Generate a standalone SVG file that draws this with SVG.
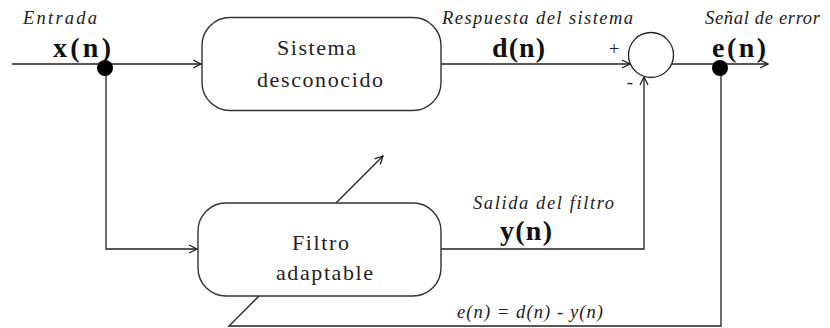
<svg xmlns="http://www.w3.org/2000/svg" width="830" height="328" viewBox="0 0 830 328">
<style>
.ln{fill:none;stroke:#222;stroke-width:1.3}
.box{fill:#fff;stroke:#333;stroke-width:1.4}
.dot{fill:#000}
</style>
<defs>
<marker id="arr" markerWidth="10" markerHeight="10" refX="9" refY="5" orient="auto" markerUnits="userSpaceOnUse">
<path d="M1,1 L9,5 L1,9" fill="none" stroke="#222" stroke-width="1.3"/>
</marker>
</defs>
<g id="connectors">
<line class="ln" x1="12" y1="64" x2="201" y2="64" marker-end="url(#arr)"/>
<polyline class="ln" points="106,64 106,249 197,249" marker-end="url(#arr)"/>
<line class="ln" x1="441" y1="64" x2="630" y2="64" marker-end="url(#arr)"/>
<polyline class="ln" points="441,249 644,249 644,77" marker-end="url(#arr)"/>
<line class="ln" x1="672" y1="64" x2="768" y2="64" marker-end="url(#arr)"/>
<polyline class="ln" points="721,68 721,326 229,326 259,296"/>
<line class="ln" x1="336" y1="203" x2="383" y2="156" marker-end="url(#arr)"/>
</g>
<g id="sistema" font-family="'Liberation Serif', serif" font-size="22" fill="#222">
<rect class="box" x="202" y="17.5" width="239" height="93" rx="28" ry="28"/>
<text x="277" y="55" textLength="79" lengthAdjust="spacing">Sistema</text>
<text x="257" y="87" textLength="126" lengthAdjust="spacing">desconocido</text>
</g>
<g id="filtro" font-family="'Liberation Serif', serif" font-size="22" fill="#222">
<rect class="box" x="198" y="203" width="243" height="93" rx="28" ry="28"/>
<text x="292" y="250" textLength="57" lengthAdjust="spacing">Filtro</text>
<text x="276" y="280" textLength="97" lengthAdjust="spacing">adaptable</text>
</g>
<g id="sumador" font-family="'Liberation Serif', serif" font-size="19" fill="#222">
<circle cx="651" cy="55" r="22.5" fill="#fff" stroke="#222" stroke-width="1.3"/>
<text x="614" y="55" text-anchor="middle">+</text>
<text x="630" y="88" text-anchor="middle">-</text>
</g>
<g id="nodo-entrada">
<circle class="dot" cx="105" cy="68" r="8"/>
</g>
<g id="nodo-error">
<circle class="dot" cx="720" cy="68" r="8"/>
</g>
<g id="labels" font-family="'Liberation Serif', serif" fill="#222">
<g font-size="18.5" font-style="italic">
<text x="23" y="24" textLength="74" lengthAdjust="spacing">Entrada</text>
<text x="442" y="24" textLength="191" lengthAdjust="spacing">Respuesta del sistema</text>
<text x="705" y="24" textLength="115" lengthAdjust="spacing">Señal de error</text>
<text x="473" y="209" textLength="141" lengthAdjust="spacing">Salida del filtro</text>
<text x="457" y="318" textLength="146" lengthAdjust="spacing">e(n) = d(n) - y(n)</text>
</g>
<g font-size="28" font-weight="bold" fill="#111">
<text x="53" y="57" textLength="58" lengthAdjust="spacing">x(n)</text>
<text x="492" y="57" textLength="53" lengthAdjust="spacing">d(n)</text>
<text x="712" y="57" textLength="54" lengthAdjust="spacing">e(n)</text>
<text x="500" y="240" textLength="52" lengthAdjust="spacing">y(n)</text>
</g>
</g>
</svg>
